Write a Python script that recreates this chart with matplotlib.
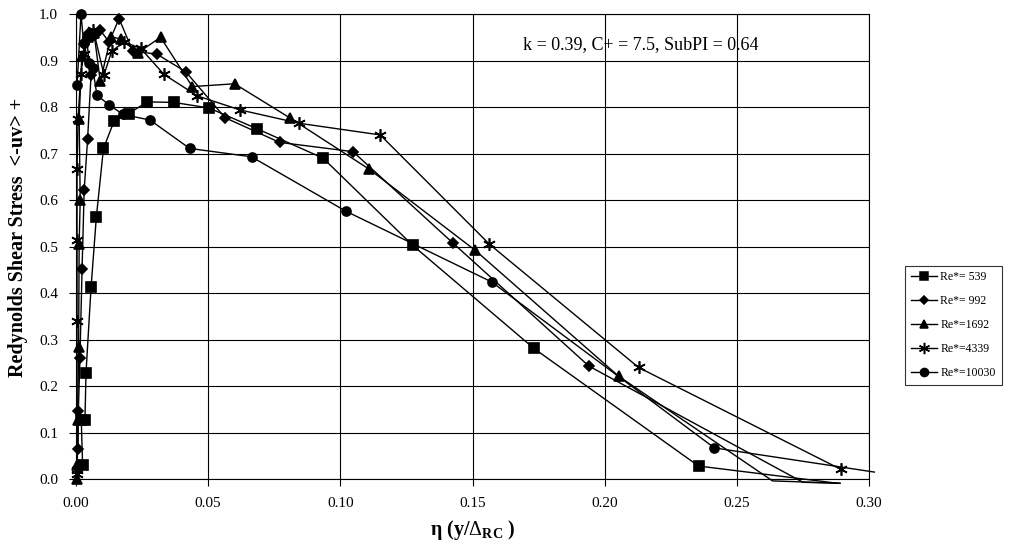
import matplotlib
matplotlib.use("Agg")
import matplotlib.pyplot as plt

plt.rcParams['font.family'] = ['Liberation Serif', 'DejaVu Serif']
plt.rcParams['mathtext.fontset'] = 'custom'
plt.rcParams['mathtext.rm'] = 'Liberation Serif'
plt.rcParams['mathtext.bf'] = 'Liberation Serif:bold'

# Re*=539
x539 = [0.0025, 0.0020, 0.0034, 0.0038, 0.0057, 0.0077, 0.0104, 0.0145, 0.0199, 0.0270,
        0.0369, 0.0503, 0.0686, 0.0935, 0.1273, 0.1732, 0.2355, 0.2880]
y539 = [0.030, 0.128, 0.128, 0.229, 0.412, 0.563, 0.711, 0.771, 0.786, 0.811,
        0.810, 0.798, 0.753, 0.690, 0.503, 0.281, 0.028, -0.009]

# Re*=992
x992 = [0.0008, 0.0009, 0.0015, 0.0023, 0.0031, 0.0044, 0.0057, 0.0031, 0.0050, 0.0072,
        0.0092, 0.0125, 0.0163, 0.0215, 0.0305, 0.0415, 0.0564, 0.0770, 0.1048, 0.1425,
        0.1940, 0.2750, 0.2890]
y992 = [0.065, 0.147, 0.260, 0.451, 0.621, 0.731, 0.869, 0.935, 0.960, 0.955,
        0.965, 0.940, 0.990, 0.920, 0.914, 0.876, 0.777, 0.724, 0.704, 0.508,
        0.243, -0.007, -0.009]

# Re*=1692
x1692 = [0.0003, 0.0005, 0.0006, 0.0010, 0.0012, 0.0016, 0.0012, 0.0022, 0.0045, 0.0068,
         0.0092, 0.0132, 0.0172, 0.0233, 0.0320, 0.0440, 0.0600, 0.0811, 0.1110, 0.1510,
         0.2053, 0.2635, 0.2890]
y1692 = [0.000, 0.030, 0.128, 0.283, 0.505, 0.600, 0.775, 0.910, 0.950, 0.960,
         0.855, 0.951, 0.946, 0.916, 0.950, 0.844, 0.850, 0.776, 0.666, 0.492,
         0.221, -0.004, -0.009]

# Re*=4339
x4339 = [0.0002, 0.0003, 0.0004, 0.0004, 0.0004, 0.0008, 0.0018, 0.0030, 0.0045, 0.0066,
         0.0106, 0.0135, 0.0182, 0.0245, 0.0333, 0.0459, 0.0619, 0.0845, 0.1151, 0.1564,
         0.2128, 0.2893]
y4339 = [0.010, 0.020, 0.340, 0.514, 0.667, 0.775, 0.870, 0.915, 0.950, 0.965,
         0.869, 0.920, 0.940, 0.926, 0.870, 0.824, 0.794, 0.765, 0.740, 0.505,
         0.240, 0.021]

# Re*=10030
x10030 = [0.0004, 0.0019, 0.0029, 0.0040, 0.0050, 0.0063, 0.0079, 0.0126, 0.0179, 0.0280,
          0.0430, 0.0664, 0.1021, 0.1572, 0.2415, 0.3020]
y10030 = [0.847, 1.000, 0.937, 0.950, 0.894, 0.885, 0.826, 0.804, 0.784, 0.772,
          0.711, 0.693, 0.576, 0.424, 0.067, 0.015]

series = [
    ("Re*= 539", x539, y539, 's', 6.5),
    ("Re*= 992", x992, y992, 'D', 5),
    ("Re*=1692", x1692, y1692, '^', 7),
    ("Re*=4339", x4339, y4339, (6, 2, 0), 9),
    ("Re*=10030", x10030, y10030, 'o', 6.5),
]

xticks = [0.00, 0.05, 0.10, 0.15, 0.20, 0.25, 0.30]
xticklabels = ["0.00", "0.05", "0.10", "0.15", "0.20", "0.25", "0.30"]
yticks = [0.0, 0.1, 0.2, 0.3, 0.4, 0.5, 0.6, 0.7, 0.8, 0.9, 1.0]

fig = plt.figure(figsize=(10.09, 5.5), dpi=100)
ax = fig.add_axes([0.0753, 0.129, 0.7860, 0.8455])

for label, xs, ys, mk, ms in series:
    # line runs past the axes like the original, markers only inside
    ax.plot(xs, ys, color='black', lw=1, clip_on=False, zorder=3)
    inside = [(a, b) for a, b in zip(xs, ys) if 0 <= b <= 1.0 and a <= 0.30]
    ax.plot([p[0] for p in inside], [p[1] for p in inside], linestyle='none',
            marker=mk, ms=ms, color='black', mew=1.2, clip_on=False, zorder=4)
    ax.plot([], [], color='black', lw=1, marker=mk, ms=ms * 0.9, mew=1.1, label=label)

ax.set_xlim(0, 0.30)
ax.set_ylim(0, 1.0)
ax.set_xticks(xticks)
ax.set_xticklabels(xticklabels)
ax.set_yticks(yticks)
ax.set_yticklabels([f"{v:.1f}" for v in yticks])
ax.grid(True, color='black', lw=0.8)
ax.set_axisbelow(True)
ax.tick_params(labelsize=11, direction='out', length=5, width=0.8, pad=8)
for s in ax.spines.values():
    s.set_linewidth(0.8)

ax.text(0.169, 0.935, "k = 0.39, C+ = 7.5, SubPI = 0.64", fontsize=13, va='center')

ax.set_xlabel(r"$\mathbf{\eta}$ (y/$\Delta_{\mathbf{RC}}$ )", fontsize=14.5, fontweight='bold', labelpad=6)
ax.set_ylabel("Redynolds Shear Stress  <-uv> +", fontsize=14.5, fontweight='bold')
ax.yaxis.set_label_coords(-0.061, 0.52)

leg = ax.legend(loc='center left', bbox_to_anchor=(0.891, 0.409), bbox_transform=fig.transFigure,
                fontsize=8.5, frameon=True, fancybox=False, edgecolor='black',
                handlelength=2.2, labelspacing=1.0, borderpad=0.5, handletextpad=0.3)
leg.get_frame().set_linewidth(0.8)

fig.savefig("out.png", dpi=100)
